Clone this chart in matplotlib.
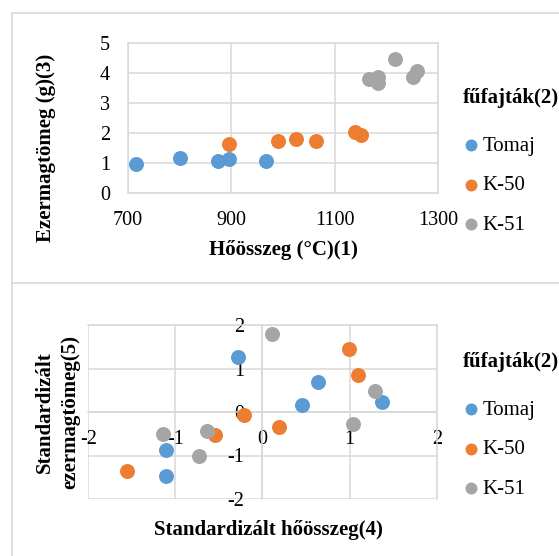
import matplotlib.pyplot as plt
from matplotlib.lines import Line2D

plt.rcParams['font.family'] = ['Liberation Serif', 'DejaVu Serif']

# felső diagram: hőösszeg - ezermagtömeg
heat_tomaj = [715, 801, 875, 896, 968]
mass_tomaj = [0.96, 1.18, 1.07, 1.12, 1.08]
heat_k50 = [895, 990, 1025, 1063, 1139, 1150]
mass_k50 = [1.63, 1.74, 1.79, 1.74, 2.02, 1.92]
heat_k51 = [1167, 1184, 1184, 1216, 1251, 1260]
mass_k51 = [3.79, 3.86, 3.66, 4.46, 3.88, 4.08]

# alsó diagram: standardizált értékek
zx_tomaj = [-0.28, -1.11, -1.11, 0.64, 0.45, 1.37]
zy_tomaj = [1.26, -0.88, -1.46, 0.68, 0.17, 0.22]
zx_k50 = [-1.56, -0.55, -0.21, 0.19, 0.99, 1.10]
zy_k50 = [-1.36, -0.54, -0.08, -0.34, 1.44, 0.84]
zx_k51 = [-1.14, -0.64, -0.73, 0.11, 1.29, 1.04]
zy_k51 = [-0.51, -0.44, -1.00, 1.79, 0.48, -0.27]

names = ['Tomaj', 'K-50', 'K-51']
colors = ['#5B9BD5', '#ED7D31', '#A5A5A5']
top_x_ticks = [700, 900, 1100, 1300]
top_y_ticks = [0, 1, 2, 3, 4, 5]
z_ticks = [-2, -1, 0, 1, 2]

grid_c = '#d9d9d9'
fs = 14.5
lfs = 15
W, H = 559, 556

fig = plt.figure(figsize=(W/100, H/100), dpi=100)

# panel keretek
fig.add_artist(Line2D([11.5/W, 11.5/W], [0, 1-13.3/H], color=grid_c, lw=1.2))
fig.add_artist(Line2D([11.5/W, 1], [1-13.3/H, 1-13.3/H], color=grid_c, lw=1.2))
fig.add_artist(Line2D([11.5/W, 1], [1-283/H, 1-283/H], color=grid_c, lw=1.2))

leg_kw = dict(loc='upper left', bbox_transform=fig.transFigure, frameon=False,
              fontsize=lfs, title_fontproperties={'weight': 'bold', 'size': lfs},
              alignment='left', borderpad=0.6, borderaxespad=0, handlelength=0.8,
              handletextpad=0.15, labelspacing=0.95, markerscale=0.8)

# ---- felső ----
ax1 = fig.add_axes([128/W, 1-193/H, 310/W, 150/H])
for xs, ys, n, c in zip([heat_tomaj, heat_k50, heat_k51], [mass_tomaj, mass_k50, mass_k51], names, colors):
    ax1.scatter(xs, ys, s=116, color=c, label=n, linewidths=0, zorder=3)
ax1.set_xlim(700, 1300)
ax1.set_ylim(0, 5)
ax1.set_xticks(top_x_ticks)
ax1.set_yticks(top_y_ticks)
ax1.grid(True, color=grid_c, lw=1.1)
ax1.set_axisbelow(True)
for sp in ax1.spines.values():
    sp.set_color(grid_c)
    sp.set_linewidth(1.1)
ax1.tick_params(length=0, labelsize=fs, pad=13)
ax1.set_xlabel('Hőösszeg (°C)(1)', fontsize=lfs, fontweight='bold', va='center')
ax1.xaxis.set_label_coords(0.5, -0.38)
ax1.set_ylabel('Ezermagtömeg (g)(3)', fontsize=lfs, fontweight='bold', va='center')
ax1.yaxis.set_label_coords(-0.266, 0.30)
leg1 = ax1.legend(title='fűfajták(2)', bbox_to_anchor=(450/W, 1-76/H), **leg_kw)
leg1._legend_box.sep = 20  # nagyobb hely a cím alatt

# ---- alsó ----
ax2 = fig.add_axes([88.3/W, 1-499/H, 348.4/W, 174/H])
for xs, ys, n, c in zip([zx_tomaj, zx_k50, zx_k51], [zy_tomaj, zy_k50, zy_k51], names, colors):
    ax2.scatter(xs, ys, s=116, color=c, label=n, linewidths=0, zorder=3)
ax2.set_xlim(-2, 2)
ax2.set_ylim(-2, 2)
ax2.set_xticks(z_ticks)
ax2.set_yticks(z_ticks)
ax2.set_xticklabels([str(t) for t in z_ticks])
ax2.set_yticklabels([str(t) for t in z_ticks])
ax2.grid(True, color=grid_c, lw=1.1)
ax2.set_axisbelow(True)
for t in ax2.xaxis.get_major_ticks() + ax2.yaxis.get_major_ticks():
    t.gridline.set_clip_on(False)
ax2.spines['left'].set_position('zero')
ax2.spines['bottom'].set_position('zero')
for sp in ax2.spines.values():
    sp.set_color(grid_c)
    sp.set_linewidth(1.1)
ax2.tick_params(length=0, labelsize=fs, pad=13)
ax2.set_xlabel('Standardizált hőösszeg(4)', fontsize=lfs, fontweight='bold', va='center')
ax2.xaxis.set_label_coords(0.516, -0.178)
ax2.set_ylabel('Standardizált\nezermagtömeg(5)', fontsize=lfs, fontweight='bold',
               va='center', linespacing=1.3)
ax2.yaxis.set_label_coords(-0.088, 0.5)
leg2 = ax2.legend(title='fűfajták(2)', bbox_to_anchor=(450/W, 1-340/H), **leg_kw)
leg2._legend_box.sep = 20

fig.savefig('out.png', dpi=100)
